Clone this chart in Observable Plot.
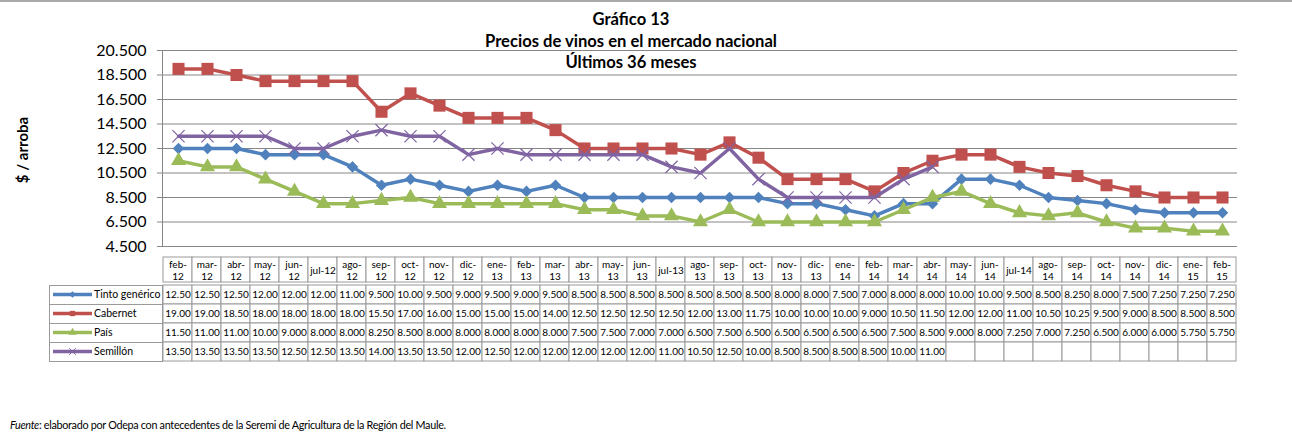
<!DOCTYPE html>
<html><head><meta charset="utf-8">
<script src="https://cdn.jsdelivr.net/npm/d3@7"></script>
<script src="https://cdn.jsdelivr.net/npm/@observablehq/plot@0.6"></script>
<style>
body{margin:0;background:#fff;}
#wrap{position:relative;width:1292px;height:436px;overflow:hidden;font-family:Lato,sans-serif;color:#000;}
#topline{position:absolute;left:0;top:0;width:1292px;height:2px;background:#a9a9a9;}
.abs{position:absolute;}
#title{left:0;top:9px;width:1262px;text-align:center;font-weight:bold;font-size:16.6px;line-height:21.5px;z-index:2;}
#ylab{left:22px;top:150px;transform:translate(-50%,-50%) rotate(-90deg);font-weight:bold;font-size:15px;white-space:nowrap;}
#foot{left:10px;top:418px;font-size:10.8px;letter-spacing:-0.3px;white-space:nowrap;}
</style></head><body><div id="wrap">
<div id="topline"></div>
<div id="title" class="abs">Gráfico 13<br>Precios de vinos en el mercado nacional<br>Últimos 36 meses</div>
<div id="ylab" class="abs">$ / arroba</div>
<div id="foot" class="abs"><i>Fuente</i>: elaborado por Odepa con antecedentes de la Seremi de Agricultura de la Región del Maule.</div>
</div>
<script>
const months = ["feb-12","mar-12","abr-12","may-12","jun-12","jul-12","ago-12","sep-12","oct-12","nov-12","dic-12",
  "ene-13","feb-13","mar-13","abr-13","may-13","jun-13","jul-13","ago-13","sep-13","oct-13","nov-13","dic-13",
  "ene-14","feb-14","mar-14","abr-14","may-14","jun-14","jul-14","ago-14","sep-14","oct-14","nov-14","dic-14",
  "ene-15","feb-15"];
const series = ["Tinto genérico","Cabernet","País","Semillón"];
const tinto = [12.5,12.5,12.5,12,12,12,11,9.5,10,9.5,9,9.5,9,9.5,8.5,8.5,8.5,8.5,8.5,8.5,8.5,8,8,7.5,7,8,8,10,10,9.5,8.5,8.25,8,7.5,7.25,7.25,7.25];
const cabernet = [19,19,18.5,18,18,18,18,15.5,17,16,15,15,15,14,12.5,12.5,12.5,12.5,12,13,11.75,10,10,10,9,10.5,11.5,12,12,11,10.5,10.25,9.5,9,8.5,8.5,8.5];
const pais = [11.5,11,11,10,9,8,8,8.25,8.5,8,8,8,8,8,7.5,7.5,7,7,6.5,7.5,6.5,6.5,6.5,6.5,6.5,7.5,8.5,9,8,7.25,7,7.25,6.5,6,6,5.75,5.75];
const semillon = [13.5,13.5,13.5,13.5,12.5,12.5,13.5,14,13.5,13.5,12,12.5,12,12,12,12,12,11,10.5,12.5,10,8.5,8.5,8.5,8.5,10,11];
const yTicks = [4.5,6.5,8.5,10.5,12.5,14.5,16.5,18.5,20.5];

const colors = ["#4F81BD","#C0504D","#9BBB59","#8064A2"];
const symbols = ["diamond2","square","triangle","times"];
const radii = [5.2,6.8,5.6,5.6];
const values = [tinto, cabernet, pais, semillon];

const rows = [];
const cells = [];
series.forEach((s, i) => {
  months.forEach((m, j) => {
    const v = values[i][j];
    cells.push({series: s, month: m, value: v});
    if (v !== undefined) rows.push({series: s, month: m, value: v, i});
  });
});
const fmtCell = v => v === undefined ? "" : (v >= 10 ? v.toFixed(2) : v.toFixed(3));
const headLabel = m => m.startsWith("jul") ? m : m.replace("-", "-\n");

const W = 1292, ML = 162, MR = 55;
const wrap = document.getElementById("wrap");
const GRID = "#868686", BORDER = "#9a9a9a";

const lineMarks = series.map((s, i) => Plot.line(rows.filter(d => d.series === s), {x: "month", y: "value", stroke: colors[i], strokeWidth: 3.5}));
const dotMarks = series.map((s, i) => {
  const isStroke = symbols[i] === "times";
  return Plot.dot(rows.filter(d => d.series === s), {x: "month", y: "value", symbol: () => symbols[i], r: radii[i],
    fill: isStroke ? "none" : colors[i], stroke: isStroke ? colors[i] : "none", strokeWidth: isStroke ? 1.2 : 0});
});
const marks = [
  Plot.ruleY(yTicks, {y: d => d, stroke: GRID, strokeWidth: 1}),
  Plot.axisY({ticks: yTicks, tickFormat: d3.format(".3f"), tickSize: 5, tickPadding: 11, stroke: GRID, fill: "#000", fontSize: 16, label: null}),
  Plot.frame({anchor: "left", stroke: GRID})
];
series.forEach((s, i) => { marks.push(lineMarks[i]); marks.push(dotMarks[i]); });

const chart = Plot.plot({
  width: W, height: 256, marginTop: 50, marginBottom: 10, marginLeft: ML, marginRight: MR,
  style: {fontFamily: "Lato, sans-serif", color: "#000", background: "transparent", overflow: "visible"},
  x: {type: "point", domain: months, padding: 0.5, axis: null},
  y: {domain: [4.5, 20.5], axis: null},
  marks
});
chart.style.position = "absolute"; chart.style.left = "0px"; chart.style.top = "0px";
wrap.appendChild(chart);

// table header
const header = Plot.plot({
  width: W, height: 26, marginTop: 0, marginBottom: 1, marginLeft: ML, marginRight: MR,
  style: {fontFamily: "Lato, sans-serif", color: "#000", background: "transparent", overflow: "visible"},
  x: {type: "band", domain: months, padding: 0, axis: null},
  marks: [
    Plot.cell(months, {x: d => d, fill: "#fff", stroke: BORDER, inset: 0}),
    Plot.text(months, {x: d => d, text: headLabel, fontSize: 10, lineHeight: 1.2, fill: "#000"})
  ]
});
header.style.position = "absolute"; header.style.left = "0px"; header.style.top = "257px";
wrap.appendChild(header);

// table body
const body = Plot.plot({
  width: W, height: 80, marginTop: 0, marginBottom: 1, marginLeft: ML, marginRight: MR,
  style: {fontFamily: "Lato, sans-serif", color: "#000", background: "transparent", overflow: "visible"},
  x: {type: "band", domain: months, padding: 0, axis: null},
  y: {type: "band", domain: series, padding: 0, axis: null},
  marks: [
    Plot.cell(cells, {x: "month", y: "series", fill: "#fff", stroke: BORDER, inset: 0}),
    Plot.text(cells, {x: "month", y: "series", text: d => fmtCell(d.value), fontSize: 10, fill: "#000"})
  ]
});
body.style.position = "absolute"; body.style.left = "0px"; body.style.top = "283px";
wrap.appendChild(body);

// legend column in the table, positioned with the body's y scale
const ys = body.scale("y");
const bw = ys.bandwidth;
const svg = d3.select(body);
const LX0 = 49, LX1 = ML;
const symMap = {diamond2: d3.symbolDiamond2, square: d3.symbolSquare, triangle: d3.symbolTriangle, times: d3.symbolTimes};
series.forEach((s, i) => {
  const y0 = ys.apply(s);
  const g = svg.append("g");
  g.append("rect").attr("x", LX0 + 0.5).attr("y", y0 + 0.5).attr("width", LX1 - LX0).attr("height", bw)
    .attr("fill", "#fff").attr("stroke", BORDER);
  g.append("line").attr("x1", 53).attr("x2", 92).attr("y1", y0 + bw / 2).attr("y2", y0 + bw / 2)
    .attr("stroke", colors[i]).attr("stroke-width", 3.5);
  const st = symbols[i] === "times";
  g.append("path").attr("d", d3.symbol(symMap[symbols[i]], st ? 30 : 28)())
    .attr("transform", `translate(72.5,${y0 + bw / 2})`)
    .attr("fill", st ? "none" : colors[i]).attr("stroke", st ? colors[i] : "none");
  g.append("text").attr("x", 94).attr("y", y0 + bw / 2).attr("dy", "0.35em")
    .attr("text-anchor", "start")
    .attr("font-size", 10.5).attr("font-family", "Lato, sans-serif").attr("fill", "#000").text(s);
});
</script>
</body></html>
